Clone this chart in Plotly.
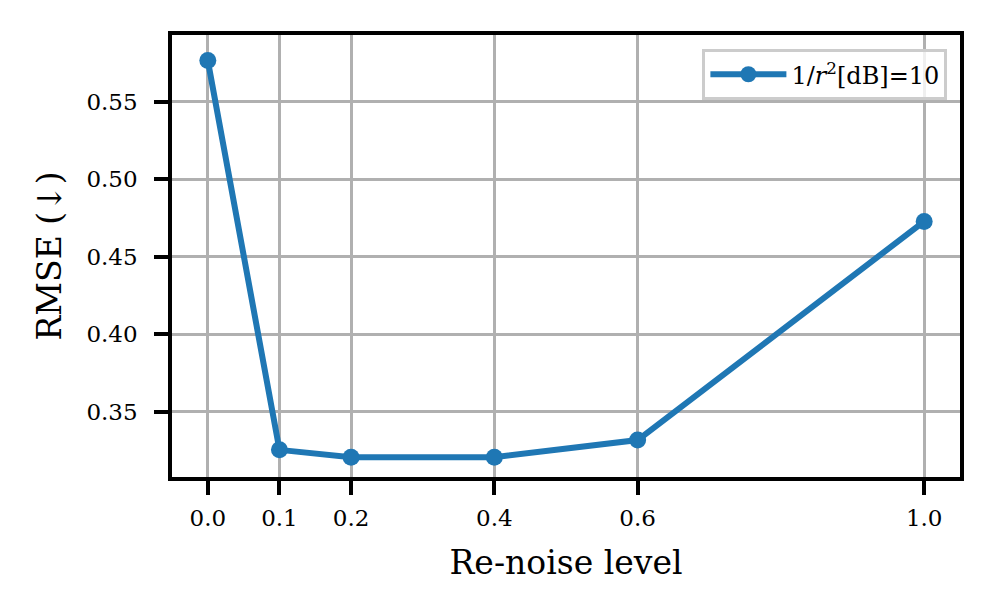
import plotly.graph_objects as go

noise_levels = [0.0, 0.1, 0.2, 0.4, 0.6, 1.0]
rmse_values = [0.5765, 0.3255, 0.3208, 0.3208, 0.3318, 0.4728]
x_tick_vals = [0.0, 0.1, 0.2, 0.4, 0.6, 1.0]
x_tick_text = ["0.0", "0.1", "0.2", "0.4", "0.6", "1.0"]
y_tick_vals = [0.35, 0.40, 0.45, 0.50, 0.55]
y_tick_text = ["0.35", "0.40", "0.45", "0.50", "0.55"]
series_name = "1/<i>r</i><sup>2</sup>[dB]=10"

FONT = "DejaVu Serif"

fig = go.Figure()
fig.add_trace(go.Scatter(
    x=noise_levels, y=rmse_values, mode="lines+markers", name=series_name,
    line=dict(color="#1f77b4", width=6),
    marker=dict(color="#1f77b4", size=17),
))

axis_common = dict(
    showline=True, linecolor="black", linewidth=3.5, mirror=True,
    ticks="outside", ticklen=14, tickwidth=3.5, tickcolor="black",
    showgrid=True, gridcolor="#b0b0b0", gridwidth=3, zeroline=False,
    tickfont=dict(family=FONT, size=23, color="black"),
)

fig.update_layout(
    width=988, height=608,
    margin=dict(l=164, r=36, t=27, b=139),
    paper_bgcolor="white", plot_bgcolor="white",
    font=dict(family=FONT, color="black"),
    showlegend=True,
    legend=dict(
        x=0.984, y=0.968, xanchor="right", yanchor="top",
        bgcolor="rgba(255,255,255,0.8)", bordercolor="#cccccc", borderwidth=3,
        font=dict(family=FONT, size=24, color="black"),
        itemwidth=76,
    ),
    xaxis=dict(
        range=[-0.05, 1.05], tickvals=x_tick_vals, ticktext=x_tick_text,
        ticklabelstandoff=4,
        title=dict(text="Re-noise level", font=dict(family=FONT, size=33), standoff=22),
        **axis_common,
    ),
    yaxis=dict(
        range=[0.308, 0.593], tickvals=y_tick_vals, ticktext=y_tick_text,
        ticklabelstandoff=12,
        title=dict(text="RMSE (↓)", font=dict(family=FONT, size=33), standoff=16),
        **axis_common,
    ),
)

fig.write_html("out.html")
